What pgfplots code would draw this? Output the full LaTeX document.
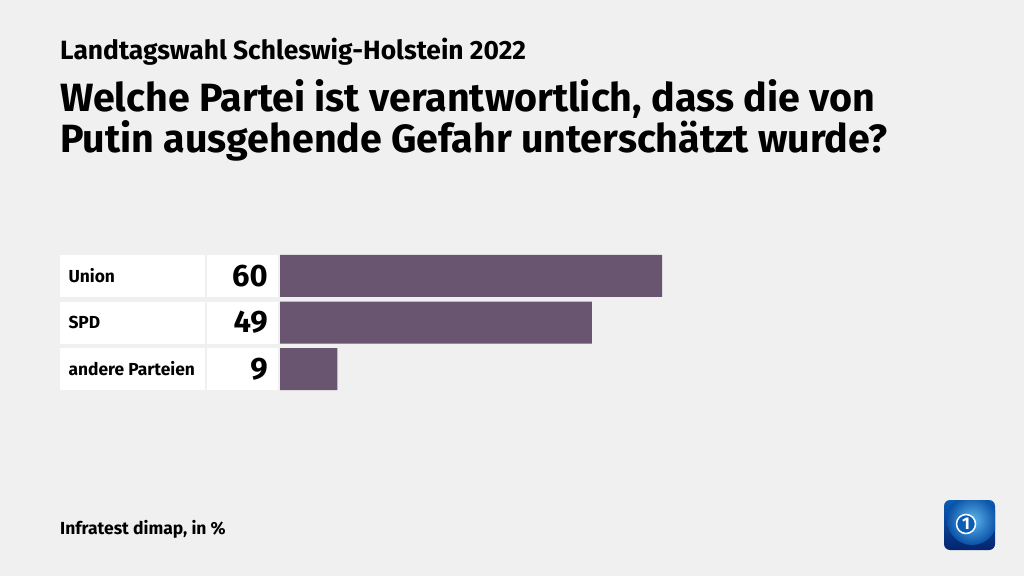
\documentclass[border=0pt]{standalone}
\usepackage{fontspec}
\setmainfont{Fira Sans}
\usepackage{pgfplots}
\pgfplotsset{compat=1.18}
\usetikzlibrary{shadings}
\definecolor{barc}{HTML}{695570}
\definecolor{bgc}{HTML}{F0F0F0}
\definecolor{logoa}{HTML}{0A5DB4}
\definecolor{logob}{HTML}{06246E}
\definecolor{logoc}{HTML}{5FB6EE}
\begin{document}
\begin{tikzpicture}[x=1pt,y=1pt]
\path[use as bounding box,fill=bgc] (0,0) rectangle (1024,576);
\node[anchor=base west,inner sep=0pt,font=\fontsize{26.4}{26.4}\selectfont\bfseries] at (60,516) {Landtagswahl Schleswig-Holstein 2022};
\node[anchor=base west,inner sep=0pt,font=\fontsize{39.4}{39.4}\selectfont\bfseries] at (60,464) {Welche Partei ist verantwortlich, dass die von};
\node[anchor=base west,inner sep=0pt,font=\fontsize{39.4}{39.4}\selectfont\bfseries] at (60,423) {Putin ausgehende Gefahr unterschätzt wurde?};
\node[anchor=base west,inner sep=0pt,font=\fontsize{17.5}{17.5}\selectfont\bfseries] at (60,42) {Infratest dimap, in \%};
\foreach \t/\b in {255/297,302/344,348/390}{
  \fill[white] (60,576-\t) rectangle (205,576-\b);
  \fill[white] (207,576-\t) rectangle (278,576-\b);
}
\begin{axis}[at={(280pt,186pt)},anchor=south west,scale only axis,width=382pt,height=135pt,
  xmin=0,xmax=60,ymin=-0.4516,ymax=2.4516,y dir=reverse,
  axis line style={draw=none},tick style={draw=none},xtick=\empty,
  ytick={0,1,2},yticklabels={Union,SPD,andere Parteien},
  y tick label style={anchor=west,xshift=-215pt,font=\fontsize{17.4}{17.4}\selectfont\bfseries},
  clip=false]
\addplot[xbar,bar width=42pt,fill=barc,draw=none] coordinates {(60,0) (49,1) (9,2)};
\addplot[draw=none,mark=none,point meta=explicit symbolic,
  nodes near coords,
  every node near coord/.style={anchor=east,xshift=-12pt,inner sep=0pt,font=\fontsize{31}{31}\selectfont\bfseries}]
  coordinates {(0,0)[60] (0,1)[49] (0,2)[9]};
\end{axis}
\begin{scope}
\clip[rounded corners=6pt] (944,26) rectangle (995,76);
\shade[top color=logoa,bottom color=logob] (944,26) rectangle (995,76);
\shade[inner color=logoc,outer color=logoa!80!logob] (972,56) circle (25);
\end{scope}
\draw[white,line width=1.5pt,fill=logoa] (966,52) circle (9.5);
\node[white,font=\fontsize{17}{17}\selectfont\bfseries] at (966,52) {1};
\end{tikzpicture}
\end{document}
